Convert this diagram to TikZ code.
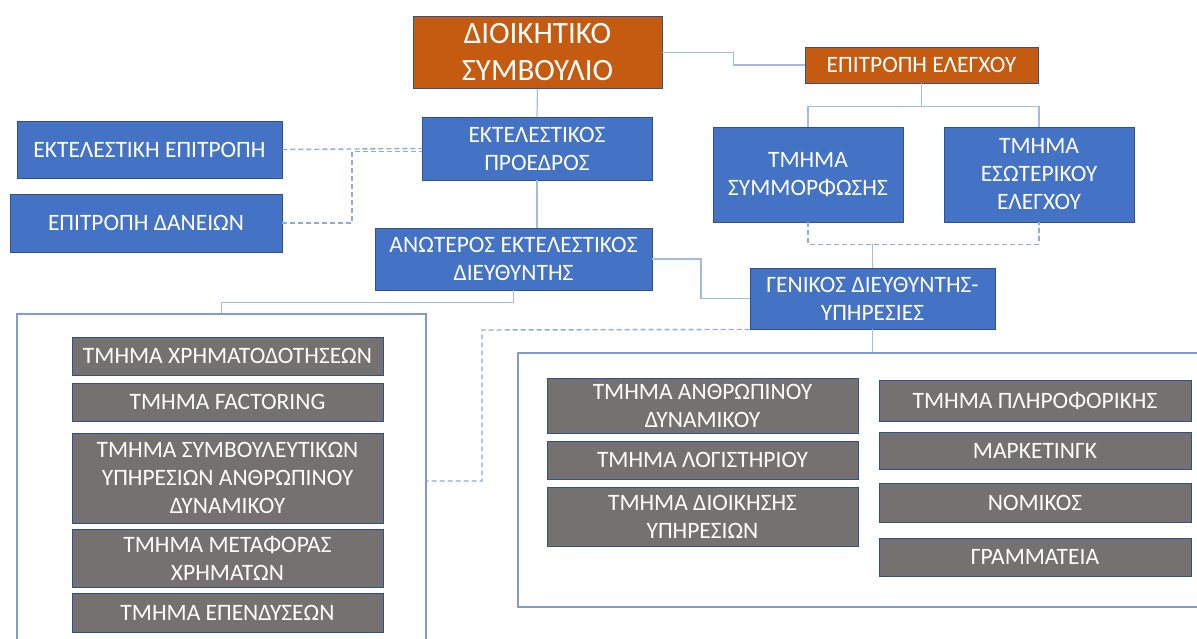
\documentclass[tikz,border=0pt]{standalone}
\usepackage{fontspec}
\setmainfont{Carlito}
\usetikzlibrary{calc}
\definecolor{orangebox}{HTML}{C55A11}
\definecolor{bluebox}{HTML}{4472C4}
\definecolor{graybox}{HTML}{767171}
\definecolor{boxedge}{HTML}{2F528F}
\definecolor{linklight}{HTML}{A3BAE3}
\definecolor{linkdash}{HTML}{8FAADC}
\definecolor{frameline}{HTML}{7F9BD3}
\begin{document}
\begin{tikzpicture}[x=1pt,y=-1pt,
    unit/.style={draw=boxedge,line width=0.9pt,text=white,align=center,inner sep=0pt,
                 font=\fontsize{23.5}{28}\selectfont},
    board/.style={unit,fill=orangebox},
    office/.style={unit,fill=bluebox},
    dept/.style={unit,fill=graybox},
    frame/.style={draw=frameline,line width=1.1pt},
    link/.style={draw=linklight,line width=1.2pt},
    dashlink/.style={draw=linkdash,line width=1.4pt,dash pattern=on 5pt off 3pt}]
    \useasboundingbox (0,0) rectangle (1197,639);
    \clip (0,0) rectangle (1197,639);

    % top level
    \node (board) at (537.5,52.5) [board,minimum width=249pt,minimum height=72pt,
        font=\fontsize{31}{37}\selectfont] {ΔΙΟΙΚΗΤΙΚΟ\\ΣΥΜΒΟΥΛΙΟ};
    \node (audit) at (921.5,65) [board,minimum width=233pt,minimum height=36pt] {ΕΠΙΤΡΟΠΗ ΕΛΕΓΧΟΥ};

    \node (comply) at (808,174.5) [office,minimum width=190pt,minimum height=95pt] {ΤΜΗΜΑ\\ΣΥΜΜΟΡΦΩΣΗΣ};
    \node (inaudit) at (1039,174.5) [office,minimum width=190pt,minimum height=95pt] {ΤΜΗΜΑ\\ΕΣΩΤΕΡΙΚΟΥ\\ΕΛΕΓΧΟΥ};

    \node (ceo) at (537,148.5) [office,minimum width=230pt,minimum height=63pt] {ΕΚΤΕΛΕΣΤΙΚΟΣ\\ΠΡΟΕΔΡΟΣ};
    \node (excom) at (149.5,149.5) [office,minimum width=265pt,minimum height=57pt] {ΕΚΤΕΛΕΣΤΙΚΗ ΕΠΙΤΡΟΠΗ};
    \node (loans) at (146,223) [office,minimum width=272pt,minimum height=58pt] {ΕΠΙΤΡΟΠΗ ΔΑΝΕΙΩΝ};
    \node (senior) at (513.5,259) [office,minimum width=277pt,minimum height=62pt] {ΑΝΩΤΕΡΟΣ ΕΚΤΕΛΕΣΤΙΚΟΣ\\ΔΙΕΥΘΥΝΤΗΣ};
    \node (general) at (872.5,298.5) [office,minimum width=245pt,minimum height=61pt] {ΓΕΝΙΚΟΣ ΔΙΕΥΘΥΝΤΗΣ-\\ΥΠΗΡΕΣΙΕΣ};

    % containers
    \node (leftgroup) at (221.5,481) [frame,minimum width=409pt,minimum height=334pt] {};
    \node (rightgroup) at (864,480) [frame,minimum width=692pt,minimum height=254pt] {};

    % left departments
    \node (finance) at (227.5,356) [dept,minimum width=311pt,minimum height=38pt] {ΤΜΗΜΑ ΧΡΗΜΑΤΟΔΟΤΗΣΕΩΝ};
    \node (factoring) at (227.5,402) [dept,minimum width=311pt,minimum height=38pt] {ΤΜΗΜΑ FACTORING};
    \node (advisory) at (227.5,478) [dept,minimum width=311pt,minimum height=90pt] {ΤΜΗΜΑ ΣΥΜΒΟΥΛΕΥΤΙΚΩΝ\\ΥΠΗΡΕΣΙΩΝ ΑΝΘΡΩΠΙΝΟΥ\\ΔΥΝΑΜΙΚΟΥ};
    \node (transfer) at (227.5,558) [dept,minimum width=311pt,minimum height=58pt] {ΤΜΗΜΑ ΜΕΤΑΦΟΡΑΣ\\ΧΡΗΜΑΤΩΝ};
    \node (invest) at (227.5,612.5) [dept,minimum width=311pt,minimum height=39pt] {ΤΜΗΜΑ ΕΠΕΝΔΥΣΕΩΝ};

    % right departments
    \node (hr) at (702.5,405.5) [dept,minimum width=311pt,minimum height=55pt] {ΤΜΗΜΑ ΑΝΘΡΩΠΙΝΟΥ\\ΔΥΝΑΜΙΚΟΥ};
    \node (account) at (702.5,460) [dept,minimum width=311pt,minimum height=38pt] {ΤΜΗΜΑ ΛΟΓΙΣΤΗΡΙΟΥ};
    \node (admin) at (702.5,516.5) [dept,minimum width=311pt,minimum height=59pt] {ΤΜΗΜΑ ΔΙΟΙΚΗΣΗΣ\\ΥΠΗΡΕΣΙΩΝ};
    \node (it) at (1035,400.5) [dept,minimum width=312pt,minimum height=41pt] {ΤΜΗΜΑ ΠΛΗΡΟΦΟΡΙΚΗΣ};
    \node (market) at (1035,450.5) [dept,minimum width=312pt,minimum height=37pt] {ΜΑΡΚΕΤΙΝΓΚ};
    \node (legal) at (1035,502.5) [dept,minimum width=312pt,minimum height=39pt] {ΝΟΜΙΚΟΣ};
    \node (secret) at (1035,557) [dept,minimum width=312pt,minimum height=38pt] {ΓΡΑΜΜΑΤΕΙΑ};

    % solid links
    \path [link]
        (board.south) edge (ceo.north)
        (ceo.south) edge (ceo.south |- senior.north)
        (general.south) edge (general.south |- rightgroup.north)
    ;
    \draw [link] (board.east) -| ($(board.east)!.5!(audit.west)$) |- (audit.west);
    \draw [link] (audit.south) -- ++(0,23) -| (comply.north);
    \draw [link] (audit.south) ++(0,23) -| (inaudit.north);
    \draw [link] (senior.east) -| ($(senior.east)!.5!(general.west)$) |- (general.west);
    \draw [link] (senior.south) -- ++(0,12) -| (leftgroup.north);
    \draw [link] (general.north) -- ++(0,-24);

    % dashed links
    \node (bend) [coordinate] at (482,330) {};
    \draw [dashlink] (excom.east) -- (ceo.west);
    \draw [dashlink] (loans.east) -| ($(loans.east)!.5!(ceo.west)$) |- ([yshift=-3pt]ceo.west);
    \draw [dashlink] (comply.south) -- ++(0,22) -| (inaudit.south);
    \draw [dashlink] (general.south west) -- (bend) |- (leftgroup.east);
\end{tikzpicture}
\end{document}
